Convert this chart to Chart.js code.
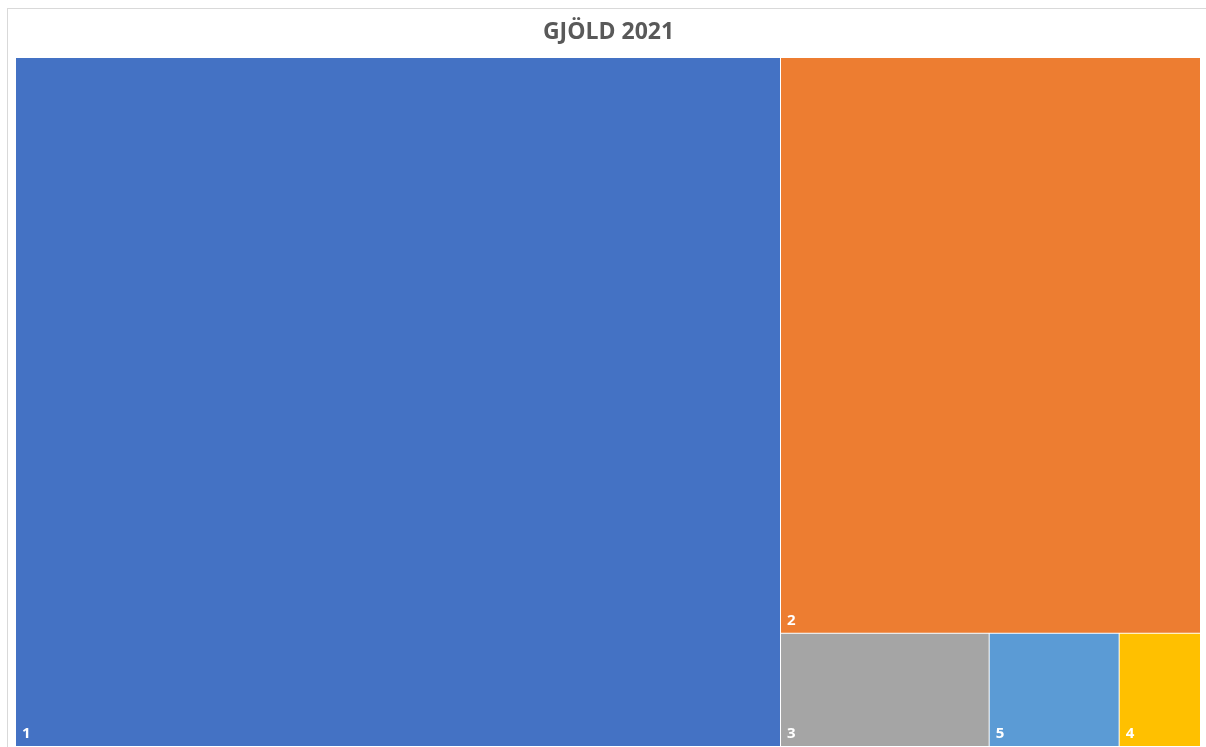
<!DOCTYPE html>
<html>
<head>
<script src="https://cdn.jsdelivr.net/npm/chart.js"></script>
<style>
  html, body { margin: 0; padding: 0; background: #fff; overflow: hidden; }
  #wrap { width: 1206px; height: 747px; }
</style>
</head>
<body>
<div id="wrap"><canvas id="myChart"></canvas></div>
<script>
const categories = ['1', '2', '3', '5', '4'];
const amounts = [5264, 2415, 236, 147, 92];
const colors = ['#4472C4', '#ED7D31', '#A5A5A5', '#5B9BD5', '#FFC000'];

// squarified layout in units where the area is w x h
function worst(row, side) {
  const s = row.reduce((a, b) => a + b, 0);
  const mx = Math.max(...row), mn = Math.min(...row);
  return Math.max(side * side * mx / (s * s), (s * s) / (side * side * mn));
}
function squarify(vals, x, y, w, h) {
  const out = [];
  let i = 0;
  while (i < vals.length) {
    const side = Math.min(w, h);
    let row = [vals[i]];
    let j = i + 1;
    while (j < vals.length && worst(row.concat(vals[j]), side) <= worst(row, side)) {
      row.push(vals[j]);
      j++;
    }
    const s = row.reduce((a, b) => a + b, 0);
    if (w >= h) {
      const cw = s / h;
      let cy = y;
      row.forEach(v => { const rh = v / cw; out.push({x: x, y: cy, w: cw, h: rh}); cy += rh; });
      x += cw; w -= cw;
    } else {
      const rh = s / w;
      let cx = x;
      row.forEach(v => { const rw = v / rh; out.push({x: cx, y: y, w: rw, h: rh}); cx += rw; });
      y += rh; h -= rh;
    }
    i = j;
  }
  return out;
}

const frame = {
  id: 'frame',
  beforeDraw(chart) {
    const c = chart.ctx;
    c.save();
    c.strokeStyle = '#d9d9d9';
    c.lineWidth = 1;
    c.strokeRect(7.5, 8.5, 1300, 800);
    c.restore();
  }
};

const treemap = {
  id: 'treemap',
  afterDatasetsDraw(chart) {
    const a = chart.chartArea, sx = chart.scales.x, sy = chart.scales.y;
    const W = a.right - a.left, H = a.bottom - a.top;
    const total = amounts.reduce((p, q) => p + q, 0);
    const scaled = amounts.map(v => v / total * W * H);
    const rects = squarify(scaled, 0, 0, W, H);
    const c = chart.ctx;
    c.save();
    rects.forEach((r, k) => {
      const x0 = sx.getPixelForValue(r.x / W * 100);
      const x1 = sx.getPixelForValue((r.x + r.w) / W * 100);
      const y0 = sy.getPixelForValue(r.y / H * 100);
      const y1 = sy.getPixelForValue((r.y + r.h) / H * 100);
      c.fillStyle = colors[k];
      c.fillRect(x0, y0, x1 - x0 - 1, y1 - y0 - 1);
      c.fillStyle = '#ffffff';
      c.font = 'bold 15px "Open Sans"';
      c.textBaseline = 'alphabetic';
      c.fillText(categories[k], x0 + 6, y1 - 9);
    });
    c.restore();
  }
};

new Chart(document.getElementById('myChart'), {
  type: 'scatter',
  data: { datasets: [{ data: [], pointRadius: 0 }] },
  options: {
    responsive: true,
    maintainAspectRatio: false,
    animation: false,
    layout: { padding: { left: 16, right: 5, top: 19, bottom: -3 } },
    scales: {
      x: { type: 'linear', min: 0, max: 100, display: false },
      y: { type: 'linear', min: 0, max: 100, reverse: true, display: false }
    },
    plugins: {
      legend: { display: false },
      tooltip: { enabled: false },
      title: {
        display: true,
        text: 'GJÖLD 2021',
        color: '#595959',
        font: { size: 23, weight: 'bold', family: '"Open Sans"' },
        padding: { top: 0, bottom: 11.4 }
      }
    }
  },
  plugins: [frame, treemap]
});
</script>
</body>
</html>
